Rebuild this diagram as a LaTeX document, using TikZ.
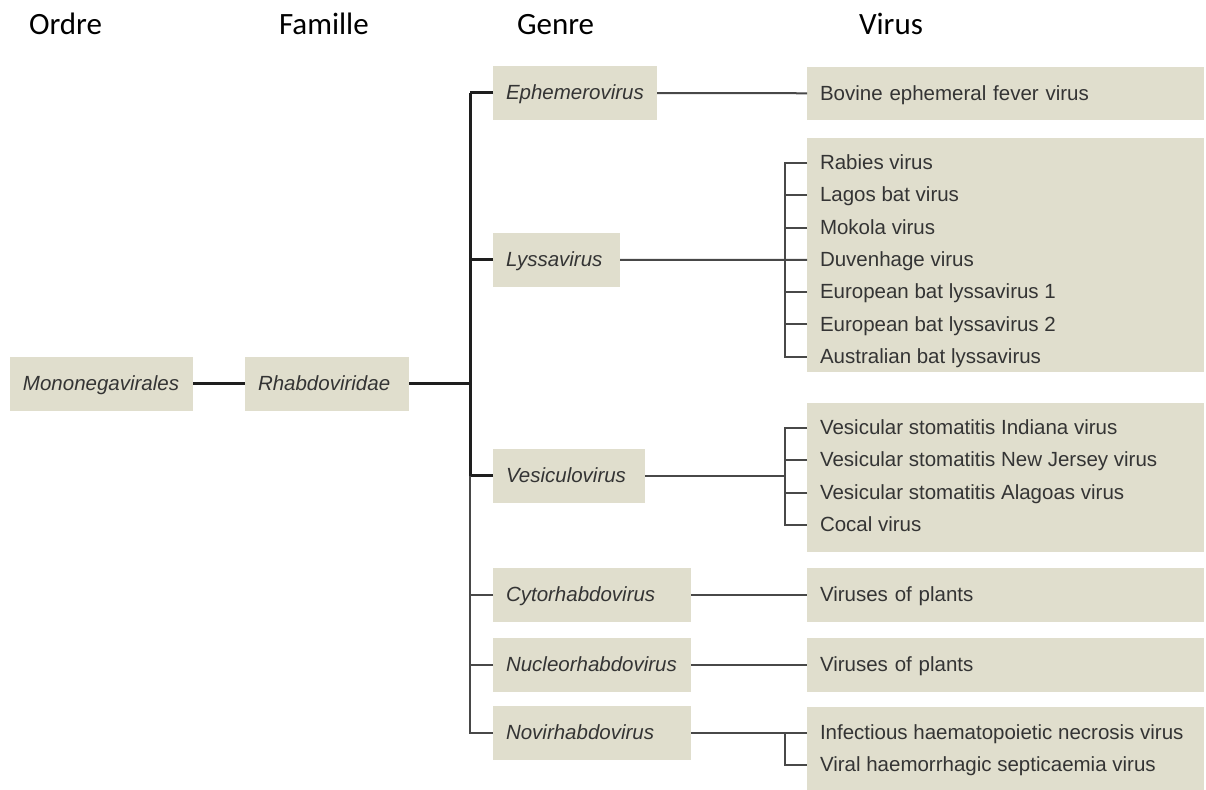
\documentclass[tikz,border=0pt]{standalone}
\usepackage{fontspec}
\setsansfont{Liberation Sans}
\newfontfamily\headfont{Carlito}
\usetikzlibrary{positioning}
\definecolor{boxfill}{RGB}{224,222,205}
\definecolor{boxtext}{RGB}{52,52,52}
\definecolor{thingray}{RGB}{72,72,72}
\definecolor{thickgray}{RGB}{30,30,30}
\hyphenpenalty=10000
\exhyphenpenalty=10000

\begin{document}
\begin{tikzpicture}[
                x=0.5pt, y=-0.5pt,
                every node/.style={outer sep=0pt},
                heading/.style={anchor=base west, inner sep=0pt,
                    font=\headfont\fontsize{15.5}{18}\selectfont},
                taxon/.style={fill=boxfill, text=boxtext, anchor=west,
                    inner xsep=6.5pt, inner ysep=0pt, text width=#1,
                    minimum height=27pt, text height=8.6pt, text depth=1.9pt,
                    font=\sffamily\itshape\fontsize{10.25}{12}\selectfont},
                species/.style={taxon=#1, font=\sffamily\fontsize{10.25}{12}\selectfont},
                listbox/.style={fill=boxfill, anchor=north west, inner sep=0pt,
                    minimum width=198.5pt, minimum height=#1},
                vname/.style={anchor=west, text=boxtext, inner xsep=6.5pt,
                    inner ysep=0pt, text height=8.6pt, text depth=1.9pt,
                    font=\sffamily\fontsize{10.25}{12}\selectfont},
                nextname/.style={below=16.15pt of #1.west, anchor=west},
                thickline/.style={draw=thickgray, line width=1.5pt},
                thinline/.style={draw=thingray, line width=1pt}]
            \useasboundingbox (0,0) rectangle (1206,790);

            % column headings
            \node[heading] (h_ordre) at (29,35) {Ordre};
            \node[heading] (h_famille) at (279,35) {Famille};
            \node[heading] (h_genre) at (517,35) {Genre};
            \node[heading] (h_virus) at (859,35) {Virus};

            % order, family
            \node[taxon=78.5pt] (mono) at (10,384) {Mononegavirales};
            \node[taxon=69pt] (rhabdo) at (245,384) {Rhabdoviridae};
            \coordinate (fork) at (470,384);
            \coordinate (brk) at (785,0);

            % genera
            \node[taxon=69pt] (ephemero) at (493,93) {Ephemerovirus};
            \node[taxon=50.5pt] (lyssa) at (493,260) {Lyssavirus};
            \node[taxon=63pt] (vesiculo) at (493,476) {Vesiculovirus};
            \node[taxon=86pt] (cyto) at (493,595) {Cytorhabdovirus};
            \node[taxon=86pt] (nucleo) at (493,665) {Nucleorhabdovirus};
            \node[taxon=86pt] (novi) at (493,733) {Novirhabdovirus};

            % viruses
            \node[species=185.5pt, minimum height=26.5pt] (bovine) at (807,93.5) {Bovine ephemeral fever virus};

            \node[listbox=117pt] (lyssa_box) at (807,138) {};
            \node[vname] (ly1) at (807,163) {Rabies virus};
            \node[vname, nextname=ly1] (ly2) {Lagos bat virus};
            \node[vname, nextname=ly2] (ly3) {Mokola virus};
            \node[vname, nextname=ly3] (ly4) {Duvenhage virus};
            \node[vname, nextname=ly4] (ly5) {European bat lyssavirus 1};
            \node[vname, nextname=ly5] (ly6) {European bat lyssavirus 2};
            \node[vname, nextname=ly6] (ly7) {Australian bat lyssavirus};

            \node[listbox=74.5pt] (vesiculo_box) at (807,403) {};
            \node[vname] (ve1) at (807,428) {Vesicular stomatitis Indiana virus};
            \node[vname, nextname=ve1] (ve2) {Vesicular stomatitis New Jersey virus};
            \node[vname, nextname=ve2] (ve3) {Vesicular stomatitis Alagoas virus};
            \node[vname, nextname=ve3] (ve4) {Cocal virus};

            \node[species=185.5pt] (plants_1) at (807,595) {Viruses of plants};
            \node[species=185.5pt] (plants_2) at (807,665) {Viruses of plants};

            \node[listbox=41.5pt] (novi_box) at (807,707) {};
            \node[vname] (nv1) at (807,733) {Infectious haematopoietic necrosis virus};
            \node[vname, nextname=nv1] (nv2) {Viral haemorrhagic septicaemia virus};

            % tree
            \path[thickline]
            (mono) edge (rhabdo)
            (rhabdo.east) edge (fork)
            (ephemero.west) edge (ephemero.west -| fork)
            (lyssa.west) edge (lyssa.west -| fork)
            (vesiculo.west) edge (vesiculo.west -| fork)
            ;
            \draw[thickline] (ephemero.west -| fork) -- (vesiculo.west -| fork);
            \draw[thinline] (vesiculo.west -| fork) |- (novi.west);
            \path[thinline]
            (cyto.west) edge (cyto.west -| fork)
            (nucleo.west) edge (nucleo.west -| fork)
            (ephemero) edge (bovine)
            (lyssa) edge (ly4)
            (vesiculo.east) edge (vesiculo.east -| brk)
            (cyto) edge (plants_1)
            (nucleo) edge (plants_2)
            (novi) edge (nv1)
            ;
            % brackets
            \draw[thinline] (ly1.west) -| (ly1.west -| brk) |- (ly7.west);
            \path[thinline]
            (ly2.west) edge (ly2.west -| brk)
            (ly3.west) edge (ly3.west -| brk)
            (ly5.west) edge (ly5.west -| brk)
            (ly6.west) edge (ly6.west -| brk)
            ;
            \draw[thinline] (ve1.west) -| (ve1.west -| brk) |- (ve4.west);
            \path[thinline]
            (ve2.west) edge (ve2.west -| brk)
            (ve3.west) edge (ve3.west -| brk)
            ;
            \draw[thinline] (nv1.west -| brk) |- (nv2.west);
        \end{tikzpicture}
\end{document}
